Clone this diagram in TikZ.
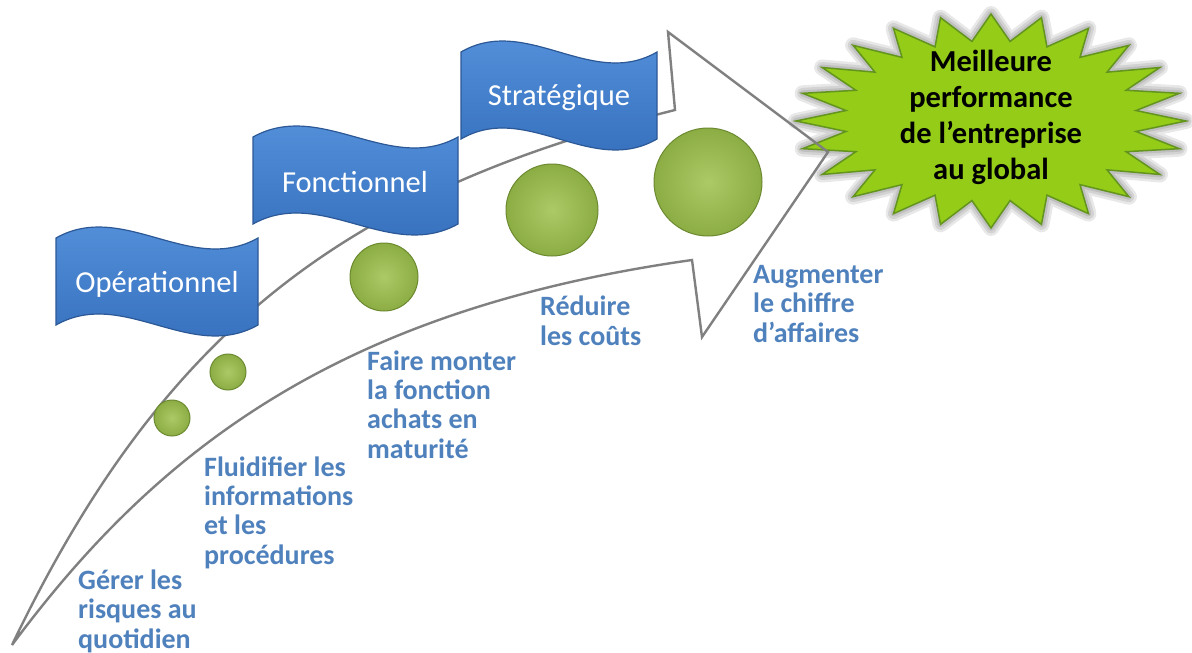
\documentclass[tikz,border=0pt]{standalone}
\usepackage{fontspec}
\setmainfont{Carlito}
\usetikzlibrary{positioning, calc}
\definecolor{flagtop}{RGB}{88, 148, 222}
\definecolor{flagbottom}{RGB}{50, 108, 186}
\definecolor{flagedge}{RGB}{44, 88, 150}
\definecolor{stepblue}{RGB}{79, 129, 189}
\definecolor{balllight}{RGB}{172, 202, 102}
\definecolor{balldark}{RGB}{140, 172, 68}
\definecolor{balledge}{RGB}{108, 138, 48}
\definecolor{burstgreen}{RGB}{148, 204, 24}
\definecolor{burstedge}{RGB}{98, 148, 30}
\definecolor{arrowgray}{RGB}{128, 128, 128}

% wave flag: left, right, top, height
\newcommand{\wavepath}[4]{(#1,#3) .. controls ({#1+(#2-#1)/3},#3-38) and ({#1+2*(#2-#1)/3},#3+38) .. (#2,#3)
  -- (#2,#3+#4) .. controls ({#1+2*(#2-#1)/3},#3+#4+38) and ({#1+(#2-#1)/3},#3+#4-38) .. (#1,#3+#4) -- cycle}
% 24 point burst round the origin
\newcommand{\burstpath}{(90:195 and 107) \foreach \k in {1,...,47}{ -- ({90+\k*7.5}:{195*(0.875+0.125*cos(180*\k))} and {107*(0.875+0.125*cos(180*\k))}) } -- cycle}

\begin{document}
\begin{tikzpicture}[x=1pt, y=-1pt,
    flag/.style={draw=flagedge, line width=1.2pt, top color=flagtop, bottom color=flagbottom},
    flagtext/.style={text=white, font=\fontsize{30.5}{36}\selectfont, anchor=base},
    ball/.style={circle, draw=balledge, line width=1pt, shading=radial, inner color=balllight, outer color=balldark},
    steplabel/.style={text=stepblue, font=\fontsize{28}{29.3}\selectfont\bfseries, align=left, anchor=base west, inner sep=0pt},
    arrowline/.style={draw=arrowgray, line width=2.4pt, line join=miter}]
    \fill[white] (0,0) rectangle (1192,653);
    \useasboundingbox (0,0) rectangle (1192,653);

    % goal burst
    \begin{scope}[shift={(991,121)}]
        \foreach \w in {16,11,6}
            \draw[black, opacity=0.09, line width=\w pt, line join=round] \burstpath;
        \filldraw[fill=burstgreen, draw=burstedge, line width=1.5pt] \burstpath;
    \end{scope}
    \node[font=\fontsize{30.5}{36}\selectfont\bfseries, align=center, anchor=base] (goal) at (991,179)
        {Meilleure\\performance\\de l’entreprise\\au global};

    % big curved arrow
    \draw[arrowline] (12,645) .. controls (161,444) and (345,309) .. (692,260) -- (702,337) -- (828,152)
        -- (668,32) -- (675,110) .. controls (355,190) and (167,321) .. cycle;

    % levels
    \path[flag] \wavepath{56}{258}{238}{87};
    \path[flag] \wavepath{253}{458}{137}{87};
    \path[flag] \wavepath{461}{657}{52}{87};
    \node[flagtext] (oper) at (157,292) {Opérationnel};
    \node[flagtext] (fonc) at (355,192) {Fonctionnel};
    \node[flagtext] (strat) at (559,105) {Stratégique};

    % growing balls
    \node[ball, minimum size=36pt] (b1) at (172,418) {};
    \node[ball, minimum size=36pt] (b2) at (228,372) {};
    \node[ball, minimum size=68pt] (b3) at (384,277) {};
    \node[ball, minimum size=92pt] (b4) at (552,210) {};
    \node[ball, minimum size=108pt] (b5) at (708,182) {};

    % goals of each step (anchored on the last line)
    \node[steplabel] (risk) at (78,648) {Gérer les\\risques au\\quotidien};
    \node[steplabel] (flow) at (204,564) {Fluidifier les\\informations\\et les\\procédures};
    \node[steplabel] (mature) at (367,458) {Faire monter\\la fonction\\achats en\\maturité};
    \node[steplabel] (cost) at (540,345) {Réduire\\les coûts};
    \node[steplabel] (sales) at (753,342) {Augmenter\\le chiffre\\d’affaires};
\end{tikzpicture}
\end{document}
